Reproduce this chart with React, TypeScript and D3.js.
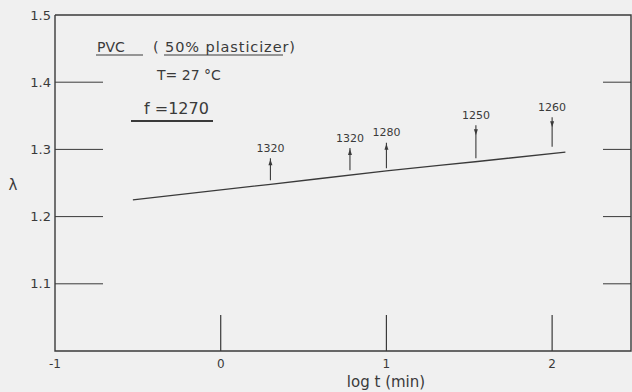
import * as d3 from "d3";

const xTicks = [-1, 0, 1, 2];
const yTicks = [1.1, 1.2, 1.3, 1.4, 1.5];
const yTickLabels = ["1.1", "1.2", "1.3", "1.4", "1.5"];

// fitted line, lambda vs log t
const lineLogT = [-0.53, 0.3, 1.0, 1.55, 2.08];
const lineLambda = [1.225, 1.248, 1.268, 1.282, 1.296];

// frequency arrows
const arrowLogT = [0.3, 0.78, 1.0, 1.54, 2.0];
const arrowLabels = ["1320", "1320", "1280", "1250", "1260"];
const arrowBottom = [1.254, 1.269, 1.272, 1.287, 1.304];
const arrowTop = [1.287, 1.302, 1.31, 1.336, 1.348];
const arrowUp = [true, true, true, false, false];

const W = 632;
const H = 392;
const ink = "#3a3a3a";
const font = "DejaVu Sans, sans-serif";

export default function App() {
  const x = d3.scaleLinear().domain([-1, 2.476]).range([55, 631]);
  const y = d3.scaleLinear().domain([1.0, 1.5]).range([351, 15]);

  const line = d3
    .line<number>()
    .x((_, i) => x(lineLogT[i]))
    .y(d => y(d))
    .curve(d3.curveMonotoneX);

  return (
    <svg
      width={W}
      height={H}
      style={{ position: "absolute", left: 0, top: 0, background: "#f0f0f0" }}
    >
      {/* frame: left, bottom, top, right */}
      <path
        d={`M${x(-1)},${y(1.5)}V${y(1.0)}H${x(2.476)}V${y(1.5)}H${x(-1)}`}
        fill="none"
        stroke={ink}
        strokeWidth={1.4}
      />

      {/* y ticks, left and right */}
      {yTicks.map((t, i) => (
        <g key={`y${i}`}>
          {t < 1.5 && (
            <>
              <line x1={x(-1)} x2={x(-1) + 48} y1={y(t)} y2={y(t)} stroke={ink} strokeWidth={1} />
              <line x1={x(2.476) - 28} x2={x(2.476)} y1={y(t)} y2={y(t)} stroke={ink} strokeWidth={1} />
            </>
          )}
          <text
            x={x(-1) - 4}
            y={y(t)}
            textAnchor="end"
            dominantBaseline="central"
            fontFamily={font}
            fontSize={13}
            fill={ink}
          >
            {yTickLabels[i]}
          </text>
        </g>
      ))}

      {/* x ticks */}
      {xTicks.map(t => (
        <g key={`x${t}`}>
          {t > -1 && (
            <line x1={x(t)} x2={x(t)} y1={y(1.0)} y2={y(1.0) - 36} stroke={ink} strokeWidth={1.2} />
          )}
          <text
            x={x(t)}
            y={y(1.0) + 13}
            textAnchor="middle"
            dominantBaseline="central"
            fontFamily={font}
            fontSize={12}
            fill={ink}
          >
            {t === -1 ? "-1" : String(t)}
          </text>
        </g>
      ))}

      <text x={386} y={387} textAnchor="middle" fontFamily={font} fontSize={15} fill={ink}>
        log  t (min)
      </text>
      <text x={13} y={185} textAnchor="middle" dominantBaseline="central" fontFamily={font} fontSize={15} fill={ink}>
        λ
      </text>

      {/* fitted line */}
      <path d={line(lineLambda) ?? ""} fill="none" stroke={ink} strokeWidth={1.3} />

      {/* arrows */}
      {arrowLogT.map((t, i) => {
        const ax = x(t);
        const yb = y(arrowBottom[i]);
        const yt = y(arrowTop[i]);
        const hy = arrowUp[i] ? yt + 1 : yt + 10;
        const dir = arrowUp[i] ? -1 : 1;
        return (
          <g key={`a${i}`}>
            <line x1={ax} x2={ax} y1={yb} y2={yt} stroke={ink} strokeWidth={1.1} />
            <path
              d={`M${ax},${hy}L${ax - 2},${hy - dir * 6}L${ax + 2},${hy - dir * 6}Z`}
              fill={ink}
            />
            <text
              x={ax}
              y={yt - 10}
              textAnchor="middle"
              dominantBaseline="central"
              fontFamily={font}
              fontSize={11}
              fill={ink}
            >
              {arrowLabels[i]}
            </text>
          </g>
        );
      })}

      {/* annotation block */}
      <text x={97} y={47} fontFamily={font} fontSize={14} fill={ink} dominantBaseline="central">PVC</text>
      <line x1={96} x2={143} y1={55} y2={55} stroke={ink} strokeWidth={1} />
      <text
        x={153}
        y={47}
        fontFamily={font}
        fontSize={14.5}
        fill={ink}
        dominantBaseline="central"
        textLength={142}
        lengthAdjust="spacing"
      >
        ( 50% plasticizer)
      </text>
      <line x1={164} x2={283} y1={55} y2={55} stroke={ink} strokeWidth={1} />
      <text x={157} y={75} fontFamily={font} fontSize={14} fill={ink} dominantBaseline="central">
        T= 27 °C
      </text>
      <text x={144} y={108} fontFamily={font} fontSize={16} fill={ink} dominantBaseline="central">
        f =1270
      </text>
      <line x1={131} x2={213} y1={121} y2={121} stroke={ink} strokeWidth={2} />
    </svg>
  );
}
